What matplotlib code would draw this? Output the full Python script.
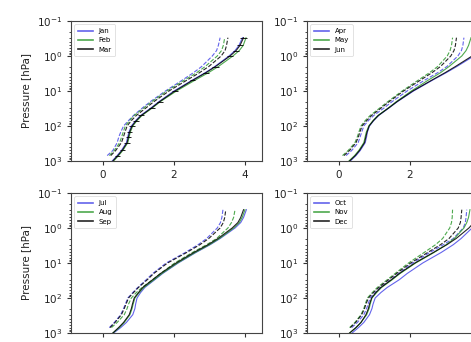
import numpy as np
import matplotlib
matplotlib.use("Agg")
import matplotlib.pyplot as plt

nan = np.nan
levels = [1000, 700, 500, 300, 200, 150, 100, 70, 50, 30, 20, 10, 5, 3, 2, 1, 0.7, 0.5, 0.3]

# panel 1: Jan, Feb, Mar
jan_solid = [0.26, 0.40, 0.52, 0.66, 0.70, 0.73, 0.80, 0.92, 1.06, 1.36, 1.58, 2.00, 2.50, 2.88, 3.15, 3.55, 3.72, 3.83, 3.93]
feb_solid = [0.30, 0.44, 0.56, 0.70, 0.74, 0.77, 0.84, 0.96, 1.10, 1.40, 1.62, 2.07, 2.58, 2.97, 3.25, 3.66, 3.84, 3.95, 4.03]
mar_solid = [0.28, 0.42, 0.54, 0.68, 0.72, 0.75, 0.82, 0.94, 1.08, 1.38, 1.60, 2.03, 2.52, 2.90, 3.17, 3.58, 3.75, 3.86, 3.96]
mar_err = [0.07, 0.07, 0.07, 0.08, 0.08, 0.08, 0.08, 0.08, 0.08, 0.08, 0.08, 0.08, 0.08, 0.09, 0.09, 0.09, 0.09, 0.09, 0.09]
jan_dash = [nan, 0.12, 0.28, 0.40, 0.45, 0.50, 0.58, 0.72, 0.86, 1.12, 1.34, 1.76, 2.22, 2.55, 2.78, 3.08, 3.20, 3.25, 3.30]
feb_dash = [nan, 0.18, 0.32, 0.47, 0.53, 0.57, 0.63, 0.75, 0.88, 1.16, 1.38, 1.80, 2.28, 2.64, 2.88, 3.22, 3.34, 3.39, 3.43]
mar_dash = [nan, 0.22, 0.36, 0.52, 0.58, 0.62, 0.68, 0.80, 0.94, 1.22, 1.44, 1.86, 2.35, 2.72, 2.98, 3.33, 3.44, 3.48, 3.52]

# panel 2: Apr, May, Jun
apr_solid = [0.32, 0.48, 0.60, 0.74, 0.78, 0.80, 0.86, 0.98, 1.12, 1.42, 1.65, 2.10, 2.62, 3.02, 3.32, 3.80, 4.00, 4.12, 4.25]
may_solid = [0.28, 0.44, 0.56, 0.70, 0.74, 0.77, 0.84, 0.96, 1.10, 1.40, 1.62, 2.04, 2.50, 2.86, 3.10, 3.46, 3.58, 3.65, 3.72]
jun_solid = [0.30, 0.46, 0.58, 0.72, 0.76, 0.79, 0.85, 0.97, 1.11, 1.41, 1.64, 2.08, 2.60, 2.99, 3.28, 3.75, 3.94, 4.05, 4.16]
apr_dash = [nan, 0.20, 0.36, 0.54, 0.60, 0.64, 0.70, 0.83, 0.98, 1.28, 1.50, 1.92, 2.40, 2.78, 3.04, 3.35, 3.45, 3.49, 3.52]
may_dash = [nan, 0.10, 0.26, 0.45, 0.52, 0.56, 0.62, 0.74, 0.88, 1.16, 1.38, 1.78, 2.22, 2.55, 2.78, 3.05, 3.13, 3.17, 3.20]
jun_dash = [nan, 0.14, 0.30, 0.48, 0.55, 0.59, 0.65, 0.78, 0.92, 1.20, 1.42, 1.82, 2.28, 2.62, 2.86, 3.15, 3.24, 3.28, 3.31]

# panel 3: Jul, Aug, Sep
jul_solid = [0.30, 0.50, 0.66, 0.84, 0.90, 0.92, 0.96, 1.06, 1.18, 1.46, 1.68, 2.12, 2.62, 3.02, 3.30, 3.72, 3.88, 3.96, 4.04]
aug_solid = [0.28, 0.46, 0.60, 0.76, 0.82, 0.85, 0.90, 1.02, 1.15, 1.44, 1.66, 2.10, 2.60, 3.00, 3.28, 3.68, 3.84, 3.92, 4.00]
sep_solid = [0.28, 0.44, 0.58, 0.74, 0.80, 0.83, 0.88, 1.00, 1.12, 1.40, 1.62, 2.06, 2.56, 2.96, 3.24, 3.64, 3.80, 3.88, 3.96]
jul_dash = [nan, 0.18, 0.32, 0.50, 0.58, 0.63, 0.70, 0.84, 0.98, 1.22, 1.40, 1.78, 2.32, 2.68, 2.92, 3.22, 3.31, 3.35, 3.38]
aug_dash = [nan, 0.24, 0.40, 0.60, 0.68, 0.72, 0.80, 0.94, 1.10, 1.40, 1.62, 2.02, 2.52, 2.92, 3.20, 3.52, 3.62, 3.68, 3.72]
sep_dash = [nan, 0.20, 0.34, 0.52, 0.60, 0.65, 0.72, 0.86, 1.00, 1.25, 1.43, 1.82, 2.36, 2.73, 2.98, 3.30, 3.39, 3.43, 3.46]

# panel 4: Oct, Nov, Dec
oct_solid = [0.37, 0.55, 0.70, 0.86, 0.93, 0.96, 1.02, 1.18, 1.36, 1.70, 1.92, 2.36, 2.88, 3.22, 3.44, 3.75, 3.92, 4.05, 4.20]
nov_solid = [0.30, 0.48, 0.62, 0.78, 0.85, 0.88, 0.93, 1.06, 1.20, 1.50, 1.72, 2.16, 2.68, 3.02, 3.25, 3.52, 3.60, 3.65, 3.69]
dec_solid = [0.30, 0.48, 0.62, 0.76, 0.83, 0.86, 0.92, 1.04, 1.18, 1.48, 1.70, 2.14, 2.66, 3.04, 3.30, 3.66, 3.80, 3.88, 3.96]
oct_dash = [nan, 0.36, 0.52, 0.70, 0.78, 0.82, 0.88, 1.02, 1.17, 1.46, 1.68, 2.08, 2.56, 2.94, 3.22, 3.50, 3.56, 3.58, 3.60]
nov_dash = [nan, 0.30, 0.45, 0.62, 0.70, 0.74, 0.80, 0.94, 1.08, 1.36, 1.58, 1.96, 2.40, 2.72, 2.92, 3.12, 3.17, 3.19, 3.20]
dec_dash = [nan, 0.32, 0.47, 0.64, 0.72, 0.76, 0.83, 0.97, 1.12, 1.40, 1.62, 2.02, 2.50, 2.86, 3.10, 3.36, 3.42, 3.44, 3.46]

panels = [
    (["Jan", "Feb", "Mar"], [jan_solid, feb_solid, mar_solid], [jan_dash, feb_dash, mar_dash]),
    (["Apr", "May", "Jun"], [apr_solid, may_solid, jun_solid], [apr_dash, may_dash, jun_dash]),
    (["Jul", "Aug", "Sep"], [jul_solid, aug_solid, sep_solid], [jul_dash, aug_dash, sep_dash]),
    (["Oct", "Nov", "Dec"], [oct_solid, nov_solid, dec_solid], [oct_dash, nov_dash, dec_dash]),
]
colors = ["#4848e8", "#2f9a2f", "black"]

W, H = 471, 342
fig = plt.figure(figsize=(W / 100, H / 100), dpi=100)
aw, ah = 191, 140
boxes = [(71, 21), (307, 21), (71, 193), (307, 193)]

for i, ((names, solids, dashes), (x0, y0)) in enumerate(zip(panels, boxes)):
    ax = fig.add_axes([x0 / W, 1 - (y0 + ah) / H, aw / W, ah / H])
    for name, s, d, c in zip(names, solids, dashes, colors):
        ax.plot(d, levels, color=c, lw=0.8, ls="--", alpha=0.85)
        ax.plot(s, levels, color=c, lw=0.8, label=name, alpha=0.85)
    if i == 0:
        ax.errorbar(mar_solid, levels, xerr=mar_err, fmt="none", ecolor="black", elinewidth=0.6, capsize=0)
    ax.set_yscale("log")
    ax.set_ylim(1000, 0.1)
    ax.set_xlim(-0.9, 4.48)
    ax.set_xticks([0, 2, 4] if i % 2 == 0 else [0, 2])
    ax.tick_params(labelsize=7.5, width=0.8, length=3, color="#333333", labelcolor="#222222")
    ax.tick_params(which="minor", length=1.6, width=0.5)
    if i % 2 == 0:
        ax.set_ylabel("Pressure [hPa]", fontsize=7.5, color="#222222")
    if i >= 2:
        ax.tick_params(axis="x", labelbottom=False)
    for sp in ax.spines.values():
        sp.set_linewidth(0.8)
        sp.set_color("#444444")
    leg = ax.legend(loc="upper left", fontsize=5, handlelength=2.2, borderpad=0.5, labelspacing=0.5)
    leg.get_frame().set_linewidth(0.5)
    for h in leg.get_lines():
        h.set_linewidth(1.2)

fig.savefig("out.png", dpi=100)
